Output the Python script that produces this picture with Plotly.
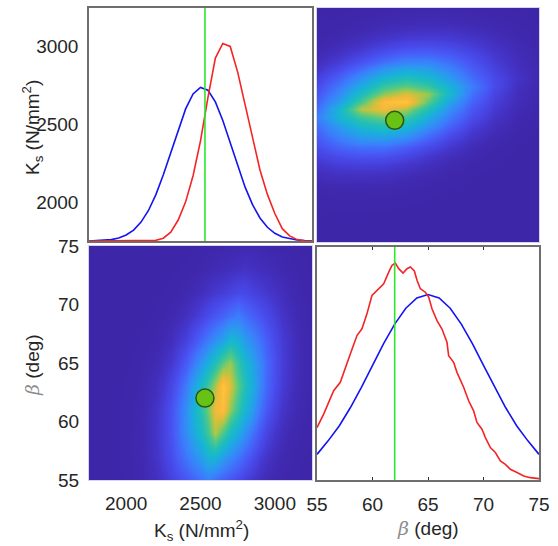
import plotly.graph_objects as go

# ---------------- data ----------------
# K_s marginal (top-left panel), heights as fraction of panel height
ks_grid = [1750, 1800, 1850, 1900, 1950, 2000, 2050, 2100, 2150, 2200, 2250,
           2300, 2350, 2400, 2450, 2500, 2550, 2600, 2650, 2700, 2750, 2800,
           2850, 2900, 2950, 3000, 3050, 3100, 3150, 3200, 3250]
ks_prior = [0.000, 0.001, 0.003, 0.006, 0.013, 0.026, 0.047, 0.081, 0.131, 0.199,
            0.284, 0.380, 0.479, 0.567, 0.631, 0.659, 0.647, 0.597, 0.517, 0.420,
            0.321, 0.231, 0.156, 0.099, 0.059, 0.033, 0.017, 0.009, 0.004, 0.002, 0.001]
ks_post = [0.000, 0.000, 0.000, 0.000, 0.000, 0.000, 0.000, 0.000, 0.000, 0.003,
           0.012, 0.038, 0.090, 0.168, 0.280, 0.430, 0.615, 0.785, 0.848, 0.835,
           0.725, 0.585, 0.440, 0.305, 0.200, 0.118, 0.053, 0.022, 0.006, 0.001, 0.000]

# beta marginal (bottom-right panel)
beta_grid = [55, 56, 57, 58, 59, 60, 61, 62, 63, 64, 65, 66, 67, 68, 69, 70,
             71, 72, 73, 74, 75]
beta_prior = [0.110, 0.168, 0.232, 0.310, 0.398, 0.492, 0.585, 0.669, 0.737, 0.781,
              0.796, 0.781, 0.737, 0.669, 0.585, 0.492, 0.398, 0.310, 0.232, 0.168, 0.110]
beta_post_x = [55.00, 55.60, 56.50, 57.10, 58.00, 58.60, 59.05, 59.50, 59.95, 60.41,
               61.01, 61.46, 61.76, 62.06, 62.36, 62.75, 63.11, 63.41, 63.77, 64.01,
               64.31, 64.76, 65.06, 65.36, 65.81, 66.26, 66.71, 66.86, 67.31, 67.61,
               68.21, 68.66, 69.11, 69.41, 69.86, 70.17, 70.62, 71.07, 71.52, 71.97,
               72.42, 73.02, 73.62, 74.22, 75.00]
beta_post = [0.225, 0.283, 0.383, 0.419, 0.541, 0.620, 0.649, 0.713, 0.792, 0.813,
             0.842, 0.892, 0.921, 0.931, 0.907, 0.888, 0.907, 0.914, 0.897, 0.857,
             0.821, 0.806, 0.785, 0.735, 0.684, 0.648, 0.591, 0.533, 0.505, 0.462,
             0.398, 0.340, 0.297, 0.247, 0.218, 0.182, 0.139, 0.118, 0.082, 0.067,
             0.046, 0.032, 0.017, 0.010, 0.006]

true_ks = 2530
true_beta = 62

# joint posterior density (rows: beta, columns: K_s)
heat_ks = [1750, 1800, 1850, 1900, 1950, 2000, 2050, 2100, 2150, 2200, 2250,
           2300, 2350, 2400, 2450, 2500, 2550, 2600, 2650, 2700, 2750, 2800,
           2850, 2900, 2950, 3000, 3050, 3100, 3150, 3200, 3250]
heat_beta = [55, 57, 59, 61, 63, 65, 67, 69, 71, 73, 75]
heat_z = [
    [0, 0, 0.0003, 0.0005, 0.0011, 0.0021, 0.0043, 0.0082, 0.0154, 0.0277, 0.0468, 0.0734, 0.108, 0.140, 0.175, 0.216,
     0.263, 0.210, 0.171, 0.136, 0.104, 0.0702, 0.0442, 0.0258, 0.0141, 0.0077, 0.0040, 0.0021, 0.0011, 0.0005, 0.0003],
    [0, 0, 0.0003, 0.0008, 0.0015, 0.0031, 0.0059, 0.0112, 0.0214, 0.0392, 0.0687, 0.112, 0.171, 0.234, 0.298, 0.366,
     0.458, 0.458, 0.366, 0.298, 0.234, 0.171, 0.112, 0.0687, 0.0392, 0.0214, 0.0112, 0.0059, 0.0031, 0.0015, 0.0008],
    [0, 0, 0, 0.0008, 0.0015, 0.0031, 0.0060, 0.0118, 0.0227, 0.0416, 0.0760, 0.130, 0.207, 0.307, 0.402, 0.503,
     0.619, 0.775, 0.637, 0.516, 0.414, 0.319, 0.218, 0.138, 0.0815, 0.0455, 0.0243, 0.0125, 0.0066, 0.0033, 0.0016],
    [0, 0, 0, 0.0004, 0.0014, 0.0028, 0.0054, 0.0109, 0.0198, 0.0386, 0.0713, 0.126, 0.206, 0.316, 0.442, 0.564,
     0.697, 0.867, 0.915, 0.732, 0.595, 0.469, 0.347, 0.230, 0.142, 0.0822, 0.0446, 0.0238, 0.0124, 0.0064, 0.0032],
    [0, 0, 0, 0, 0.0008, 0.0018, 0.0036, 0.0075, 0.0139, 0.0267, 0.0495, 0.0911, 0.155, 0.249, 0.373, 0.493,
     0.621, 0.763, 0.954, 0.828, 0.668, 0.538, 0.418, 0.291, 0.186, 0.112, 0.0624, 0.0337, 0.0178, 0.0092, 0.0047],
    [0, 0, 0, 0, 0.0002, 0.0010, 0.0020, 0.0040, 0.0077, 0.0145, 0.0282, 0.0517, 0.0925, 0.154, 0.238, 0.338,
     0.434, 0.538, 0.668, 0.743, 0.594, 0.483, 0.383, 0.287, 0.191, 0.119, 0.0698, 0.0376, 0.0204, 0.0103, 0.0055],
    [0, 0, 0, 0, 0, 0.0004, 0.0009, 0.0017, 0.0035, 0.0066, 0.0127, 0.0239, 0.0463, 0.0758, 0.122, 0.184,
     0.246, 0.311, 0.383, 0.478, 0.438, 0.352, 0.285, 0.222, 0.157, 0.102, 0.0616, 0.0372, 0.0188, 0.0097, 0.0051],
    [0, 0, 0, 0, 0, 0, 0.0003, 0.0006, 0.0011, 0.0024, 0.0045, 0.0088, 0.0162, 0.0293, 0.0489, 0.0755,
     0.111, 0.143, 0.178, 0.220, 0.259, 0.207, 0.168, 0.134, 0.102, 0.0681, 0.0428, 0.0250, 0.0136, 0.0074, 0.0037],
    [0, 0, 0, 0, 0, 0, 0, 0, 0.0003, 0.0007, 0.0013, 0.0026, 0.0049, 0.0090, 0.0158, 0.0255,
     0.0386, 0.0526, 0.0666, 0.0821, 0.103, 0.099, 0.0794, 0.0644, 0.0504, 0.0364, 0.0237, 0.0144, 0.0083, 0.0045, 0.0024],
    [0, 0, 0, 0, 0, 0, 0, 0, 0, 0, 0, 0.0006, 0.0012, 0.0021, 0.0038, 0.0065,
     0.0104, 0.0153, 0.0199, 0.0248, 0.0306, 0.0378, 0.0303, 0.0246, 0.0197, 0.0151, 0.0102, 0.0064, 0.0038, 0.0021, 0.0011],
    [0, 0, 0, 0, 0, 0, 0, 0, 0, 0, 0, 0, 0, 0.0004, 0.0008, 0.0014,
     0.0022, 0.0034, 0.0047, 0.0060, 0.0074, 0.0093, 0.0094, 0.0076, 0.0061, 0.0048, 0.0035, 0.0023, 0.0014, 0.0008, 0.0004],
]

ks_ticks = [2000, 2500, 3000]
beta_ticks = [55, 60, 65, 70, 75]
ks_range = [1750, 3250]
beta_range = [55, 75]

# ---------------- styling ----------------
parula = [
    [0.00, '#3E26A8'], [0.03, '#4330C0'], [0.08, '#4742E0'], [0.15, '#4858F5'],
    [0.25, '#3C7CFC'], [0.35, '#2A9AEE'], [0.45, '#17B3D6'], [0.55, '#23BFB4'],
    [0.65, '#4DC88A'], [0.75, '#A0C84E'], [0.83, '#E2BC3A'], [0.90, '#FDB93C'],
    [0.96, '#F8CD2E'], [1.00, '#F9F41A'],
]
BLUE = '#1414F0'
RED = '#F42424'
GREEN = '#2BE82B'
FRAME = '#6E6E6E'
TXT = '#262626'
FONT = 'Arial, Liberation Sans, sans-serif'

fig = go.Figure()

# top-left: K_s marginals
fig.add_trace(go.Scatter(x=ks_grid, y=ks_prior, mode='lines', line=dict(color=BLUE, width=1.6),
                         xaxis='x', yaxis='y'))
fig.add_trace(go.Scatter(x=ks_grid, y=ks_post, mode='lines', line=dict(color=RED, width=1.6),
                         xaxis='x', yaxis='y'))
fig.add_trace(go.Scatter(x=[true_ks, true_ks], y=[0, 1], mode='lines', line=dict(color=GREEN, width=1.6),
                         xaxis='x', yaxis='y'))

# top-right: joint (x = beta, y = K_s)
heat_zT = [list(r) for r in zip(*heat_z)]
fig.add_trace(go.Heatmap(x=heat_beta, y=heat_ks, z=heat_zT, zmin=0, zmax=1, colorscale=parula,
                         zsmooth='best', showscale=False, xaxis='x2', yaxis='y2'))
fig.add_trace(go.Scatter(x=[true_beta], y=[true_ks], mode='markers',
                         marker=dict(size=18, color='#66C214', line=dict(color='#2F5310', width=1.5)),
                         xaxis='x2', yaxis='y2'))

# bottom-left: joint (x = K_s, y = beta)
fig.add_trace(go.Heatmap(x=heat_ks, y=heat_beta, z=heat_z, zmin=0, zmax=1, colorscale=parula,
                         zsmooth='best', showscale=False, xaxis='x3', yaxis='y3'))
fig.add_trace(go.Scatter(x=[true_ks], y=[true_beta], mode='markers',
                         marker=dict(size=18, color='#66C214', line=dict(color='#2F5310', width=1.5)),
                         xaxis='x3', yaxis='y3'))

# bottom-right: beta marginals
fig.add_trace(go.Scatter(x=beta_grid, y=beta_prior, mode='lines', line=dict(color=BLUE, width=1.6),
                         xaxis='x4', yaxis='y4'))
fig.add_trace(go.Scatter(x=beta_post_x, y=beta_post, mode='lines', line=dict(color=RED, width=1.6),
                         xaxis='x4', yaxis='y4'))
fig.add_trace(go.Scatter(x=[true_beta, true_beta], y=[0, 1], mode='lines', line=dict(color=GREEN, width=1.6),
                         xaxis='x4', yaxis='y4'))

W, H = 558, 546
def dx(a, b):
    return [a / W, b / W]
def dy(top, bot):
    return [1 - bot / H, 1 - top / H]
def px(x):
    return x / W
def py(y):
    return 1 - y / H

base = dict(showgrid=False, zeroline=False, automargin=False, ticks='')
frame = dict(showline=True, linecolor=FRAME, linewidth=1.5, mirror=True, **base)
hframe = dict(showline=True, linecolor='#D6D4EC', linewidth=1, mirror=True, **base)
tickfont = dict(family=FONT, size=19, color=TXT)

# K_s tick labels on the top-left panel (whose vertical scale is density 0..1)
ks_tick_pos = [(k - ks_range[0]) / (ks_range[1] - ks_range[0]) for k in ks_ticks]

fig.update_layout(
    template='none',
    width=W, height=H, margin=dict(l=0, r=0, t=0, b=0, pad=0),
    paper_bgcolor='white', plot_bgcolor='white', showlegend=False, hovermode=False,
    font=dict(family=FONT, color=TXT),
    xaxis=dict(domain=dx(89, 312), range=ks_range, anchor='y', showticklabels=False, **frame),
    yaxis=dict(domain=dy(8, 241), range=[0, 1], anchor='x', tickvals=ks_tick_pos,
               ticktext=[str(k) for k in ks_ticks], tickfont=tickfont, ticklabelstandoff=5, **frame),
    xaxis2=dict(domain=dx(317, 539), range=beta_range, anchor='y2', showticklabels=False, **hframe),
    yaxis2=dict(domain=dy(8, 242), range=ks_range, anchor='x2', showticklabels=False, **hframe),
    xaxis3=dict(domain=dx(89, 312), range=ks_range, anchor='y3', tickvals=ks_ticks,
                tickfont=tickfont, ticklabelstandoff=6, **hframe),
    yaxis3=dict(domain=dy(246, 480), range=beta_range, anchor='x3', tickvals=beta_ticks,
                tickfont=tickfont, ticklabelstandoff=5, **hframe),
    xaxis4=dict(domain=dx(317, 539), range=beta_range, anchor='y4', tickvals=beta_ticks, ticks='inside',
                ticklen=3, tickcolor='#333333', tickfont=tickfont, ticklabelstandoff=6,
                showline=True, linecolor=FRAME, linewidth=1.5, mirror='ticks', showgrid=False,
                zeroline=False, automargin=False),
    yaxis4=dict(domain=dy(247, 480), range=[0, 1], anchor='x4', showticklabels=False, **frame),
)

beta_lbl = "<span style='color:#8c8c8c;font-family:DejaVu Serif'><i>β</i></span> (deg)"
ks_lbl = "K<sub>s</sub> (N/mm<sup>2</sup>)"
afont = dict(family=FONT, size=19, color=TXT)
fig.add_annotation(text=ks_lbl, xref='paper', yref='paper', x=px(201), y=py(530),
                   showarrow=False, font=afont, xanchor='center', yanchor='middle')
fig.add_annotation(text=beta_lbl, xref='paper', yref='paper', x=px(428), y=py(528),
                   showarrow=False, font=afont, xanchor='center', yanchor='middle')
fig.add_annotation(text=ks_lbl, xref='paper', yref='paper', x=px(32), y=py(128), textangle=-90,
                   showarrow=False, font=afont, xanchor='center', yanchor='middle')
fig.add_annotation(text=beta_lbl, xref='paper', yref='paper', x=px(32), y=py(365), textangle=-90,
                   showarrow=False, font=afont, xanchor='center', yanchor='middle')

# remove the default page margin so the 558x546 figure fills the window exactly
fig.write_html("out.html", config={'displayModeBar': False},
               post_script="document.body.style.margin='0px';")
